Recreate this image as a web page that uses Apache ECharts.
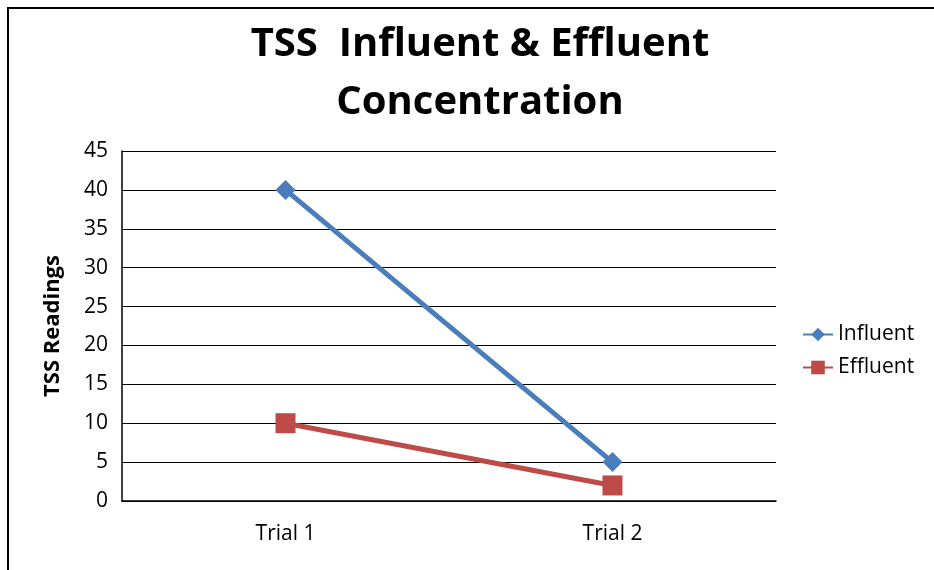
<!DOCTYPE html>
<html>
<head>
<meta charset="utf-8">
<script src="https://cdn.jsdelivr.net/npm/echarts@6/dist/echarts.min.js"></script>
<style>
html,body{margin:0;padding:0;background:#fff;}
#frame{position:absolute;left:7px;top:7px;width:940px;height:580px;border-left:2px solid #000;border-top:2px solid #000;}
#chart{position:absolute;left:0;top:0;width:934px;height:570px;}
</style>
</head>
<body>
<div id="frame"></div>
<div id="chart"></div>
<script>
const categories = ['Trial 1', 'Trial 2'];
const influent = [40, 5];
const effluent = [10, 2];
const yTicks = [0, 45, 5];

const chart = echarts.init(document.getElementById('chart'));
const font = 'Open Sans';
chart.setOption({
  animation: false,
  title: {
    text: 'TSS  Influent & Effluent\nConcentration',
    left: 475, top: 11, textAlign: 'center',
    textStyle: {fontFamily: font, fontWeight: 'bold', fontSize: 40, lineHeight: 58, color: '#000'}
  },
  legend: {
    orient: 'vertical', left: 797, top: 319, itemGap: 12,
    itemWidth: 30, itemHeight: 17,
    textStyle: {fontFamily: font, fontSize: 21, color: '#000'},
    data: ['Influent', 'Effluent']
  },
  grid: {left: 122, right: 158, top: 151, bottom: 69},
  xAxis: {
    type: 'category', data: categories, boundaryGap: true,
    axisLine: {lineStyle: {color: '#000', width: 1.5}},
    axisTick: {show: false},
    axisLabel: {fontFamily: font, fontSize: 21, color: '#000', margin: 23}
  },
  yAxis: {
    type: 'value', min: yTicks[0], max: yTicks[1], interval: yTicks[2],
    name: 'TSS Readings', nameLocation: 'middle', nameGap: 58,
    nameTextStyle: {fontFamily: font, fontWeight: 'bold', fontSize: 22, color: '#000'},
    axisLine: {show: true, lineStyle: {color: '#000', width: 1.5}},
    axisTick: {show: false},
    splitLine: {lineStyle: {color: '#000', width: 1.2}},
    axisLabel: {fontFamily: font, fontSize: 21, color: '#000', margin: 14}
  },
  series: [
    {name: 'Influent', type: 'line', data: influent, symbol: 'diamond', symbolSize: 20,
     lineStyle: {color: '#4A7EBB', width: 5}, itemStyle: {color: '#4A7EBB'}},
    {name: 'Effluent', type: 'line', data: effluent, symbol: 'rect', symbolSize: 20,
     lineStyle: {color: '#BE4B48', width: 5}, itemStyle: {color: '#BE4B48'}}
  ]
});
</script>
</body>
</html>
